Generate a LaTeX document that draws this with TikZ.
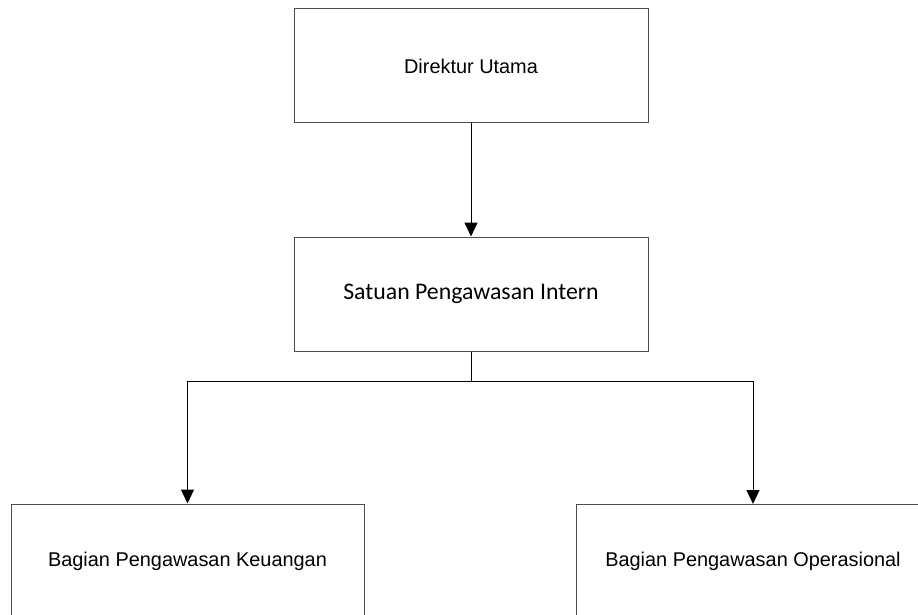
\documentclass[tikz,border=0pt]{standalone}
\usepackage{fontspec}
\setmainfont{Liberation Sans}
\newfontfamily\calfont{Carlito}
\usetikzlibrary{arrows.meta}
\begin{document}
\begin{tikzpicture}[x=1pt,y=-1pt,
  orgbox/.style={draw=black!70,line width=1pt,fill=white,rectangle,inner sep=0pt,
    minimum width=354pt,minimum height=114pt,font=\fontsize{19.9}{22}\selectfont},
  conn/.style={draw=black,line width=1pt},
  arr/.style={conn,-{Triangle[length=14pt,width=13pt]}}]
\useasboundingbox (0,0) rectangle (918,615);
\fill[white] (0,0) rectangle (918,615);
\begin{scope}
\clip (0,0) rectangle (918,615);
\node[orgbox] (top) at (471,66) {Direktur Utama};
\node[orgbox,font=\calfont\fontsize{23.8}{26}\selectfont] (mid) at (471,294) {Satuan Pengawasan Intern};
\node[orgbox,minimum width=353pt] (bl) at (187.5,561) {Bagian Pengawasan Keuangan};
\node[orgbox,minimum width=420pt,anchor=north west] (brbox) at (576,504) {};
\node[font=\fontsize{19.9}{22}\selectfont] (br) at (753,561) {Bagian Pengawasan Operasional};
\coordinate (j) at (471,381);
\draw[arr] (top.south) -- (mid.north);
\draw[conn] (mid.south) -- (j);
\draw[arr] (j) -| (bl.north);
\draw[arr] (j) -| (br |- brbox.north);
\end{scope}
\end{tikzpicture}
\end{document}
